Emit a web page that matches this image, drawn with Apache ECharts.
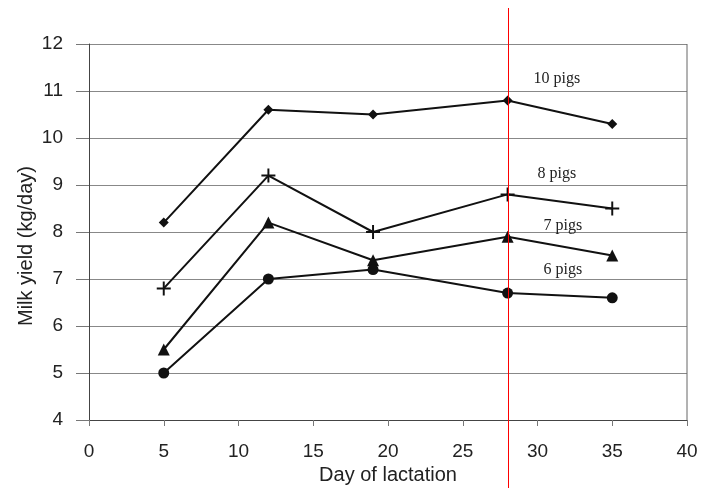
<!DOCTYPE html>
<html>
<head>
<meta charset="utf-8">
<script src="https://cdn.jsdelivr.net/npm/echarts@6/dist/echarts.min.js"></script>
<style>
html, body { margin: 0; padding: 0; background: #fff; }
#chart { width: 704px; height: 488px; }
</style>
</head>
<body>
<div id="chart"></div>
<script>
// data
const days = [5, 12, 19, 28, 35]
const pigs10 = [8.2, 10.6, 10.5, 10.8, 10.3]
const pigs8 = [6.8, 9.2, 8.0, 8.8, 8.5]
const pigs7 = [5.5, 8.2, 7.4, 7.9, 7.5]
const pigs6 = [5.0, 7.0, 7.2, 6.7, 6.6]
const seriesNames = ['10 pigs', '8 pigs', '7 pigs', '6 pigs']
const labelCoords = [[31.3, 11.26], [31.3, 9.23], [31.7, 8.13], [31.7, 7.19]]
const redLineDay = 28

const plus = 'path://M4.3,0H5.7V4.3H10V5.7H5.7V10H4.3V5.7H0V4.3H4.3Z'
const symbols = ['diamond', plus, 'triangle', 'circle']
const sizes = [10, 14, 12, 11]
const values = [pigs10, pigs8, pigs7, pigs6]

const chart = echarts.init(document.getElementById('chart'))

const series = values.map((vals, i) => ({
  name: seriesNames[i],
  type: 'line',
  data: days.map((d, j) => [d, vals[j]]),
  symbol: symbols[i],
  symbolSize: sizes[i],
  showSymbol: true,
  lineStyle: { color: '#111', width: 2 },
  itemStyle: { color: '#111' },
  z: 5,
  markPoint: {
    symbol: 'circle',
    symbolSize: 0,
    label: {
      show: true,
      position: 'inside',
      formatter: seriesNames[i],
      fontFamily: 'Liberation Serif',
      fontSize: 16,
      color: '#222'
    },
    data: [{ coord: labelCoords[i] }]
  }
}))

chart.setOption({
  animation: false,
  grid: { left: 89, right: 17, top: 44, bottom: 68, outerBoundsMode: 'none' },
  xAxis: {
    type: 'value',
    min: 0,
    max: 40,
    interval: 5,
    name: 'Day of lactation',
    nameLocation: 'middle',
    nameGap: 44,
    nameTextStyle: { fontFamily: 'Liberation Sans', fontSize: 20, color: '#222' },
    axisLine: { show: true, lineStyle: { color: '#444' } },
    axisTick: { show: true, length: 6, lineStyle: { color: '#777' } },
    axisLabel: { fontFamily: 'Liberation Sans', fontSize: 19, color: '#222', margin: 22 },
    splitLine: { show: false }
  },
  yAxis: {
    type: 'value',
    min: 4,
    max: 12,
    interval: 1,
    name: 'Milk yield (kg/day)',
    nameLocation: 'middle',
    nameGap: 53,
    nameMoveOverlap: false,
    nameTextStyle: { fontFamily: 'Liberation Sans', fontSize: 20, color: '#222', padding: [0, 28, 0, 0] },
    axisLine: { show: true, lineStyle: { color: '#444' } },
    axisTick: { show: true, length: 13, lineStyle: { color: '#777' } },
    axisLabel: { fontFamily: 'Liberation Sans', fontSize: 19, color: '#222', margin: 26 },
    splitLine: { show: true, lineStyle: { color: '#888', width: 1 } }
  },
  series: series
})

// right border of plot area and red reference line spanning full height
const topRight = chart.convertToPixel({ gridIndex: 0 }, [40, 12])
const bottomRight = chart.convertToPixel({ gridIndex: 0 }, [40, 4])
const redX = Math.round(chart.convertToPixel({ gridIndex: 0 }, [redLineDay, 4])[0]) + 0.5
chart.setOption({
  graphic: [
    {
      type: 'line',
      shape: { x1: topRight[0], y1: topRight[1], x2: bottomRight[0], y2: bottomRight[1] },
      style: { stroke: '#666', lineWidth: 1 }
    },
    {
      type: 'line',
      z: 100,
      shape: { x1: redX, y1: 8, x2: redX, y2: 488 },
      style: { stroke: '#ff0000', lineWidth: 1 }
    }
  ]
})
</script>
</body>
</html>
